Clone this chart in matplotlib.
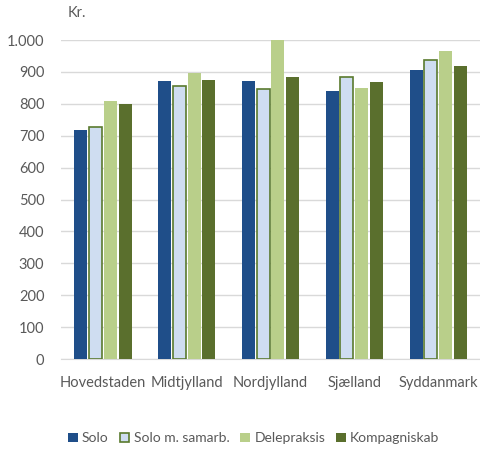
import matplotlib.pyplot as plt
import numpy as np
from matplotlib.ticker import FuncFormatter

plt.rcParams["font.family"] = ["Lato", "DejaVu Sans"]

regions = ["Hovedstaden", "Midtjylland", "Nordjylland", "Sjælland", "Syddanmark"]
series_names = ["Solo", "Solo m. samarb.", "Delepraksis", "Kompagniskab"]
solo = [719, 871, 871, 840, 906]
solo_samarb = [728, 857, 847, 883, 936]
delepraksis = [809, 898, 1000, 849, 965]
kompagniskab = [800, 876, 884, 867, 919]

values = [solo, solo_samarb, delepraksis, kompagniskab]
colors = ["#1F4E89", "#CFDDF1", "#B9CF8A", "#5A6F2D"]
edges = ["#1F4E89", "#5A7A2E", "#B9CF8A", "#5A6F2D"]
linewidths = [0, 1.2, 0, 0]

text_color = "#595959"

fig = plt.figure(figsize=(4.81, 4.5), dpi=100)
ax = fig.add_axes([0.127, 0.202, 0.871, 0.709])

x = np.arange(len(regions))
slot = 0.176
width = 0.155
for i, (vals, c, e, lw) in enumerate(zip(values, colors, edges, linewidths)):
    ax.bar(x + (i - 1.5) * slot, vals, width=width, color=c, edgecolor=e,
           linewidth=lw, label=series_names[i], zorder=3)

ax.set_xlim(-0.5, len(regions) - 0.5)
ax.set_ylim(0, 1000)
ax.set_yticks(range(0, 1001, 100))
ax.yaxis.set_major_formatter(FuncFormatter(lambda v, p: f"{int(v):,}".replace(",", ".")))
ax.set_xticks(x)
ax.set_xticklabels(regions)
ax.grid(axis="y", color="#D9D9D9", linewidth=1, zorder=0)
ax.tick_params(axis="both", length=0, colors=text_color, labelsize=10.5)
ax.tick_params(axis="x", pad=12)
ax.tick_params(axis="y", pad=12)
for s in ["top", "right", "left"]:
    ax.spines[s].set_visible(False)
ax.spines["bottom"].set_color("#D9D9D9")

fig.text(0.16, 0.972, "Kr.", ha="center", va="center", color=text_color, fontsize=10.5)

ax.legend(loc="center", bbox_to_anchor=(0.46, -0.248), ncol=4, frameon=False,
          handlelength=0.7, handleheight=0.7, handletextpad=0.3, columnspacing=0.8,
          fontsize=10, labelcolor=text_color)

fig.savefig("out.png", dpi=100)
